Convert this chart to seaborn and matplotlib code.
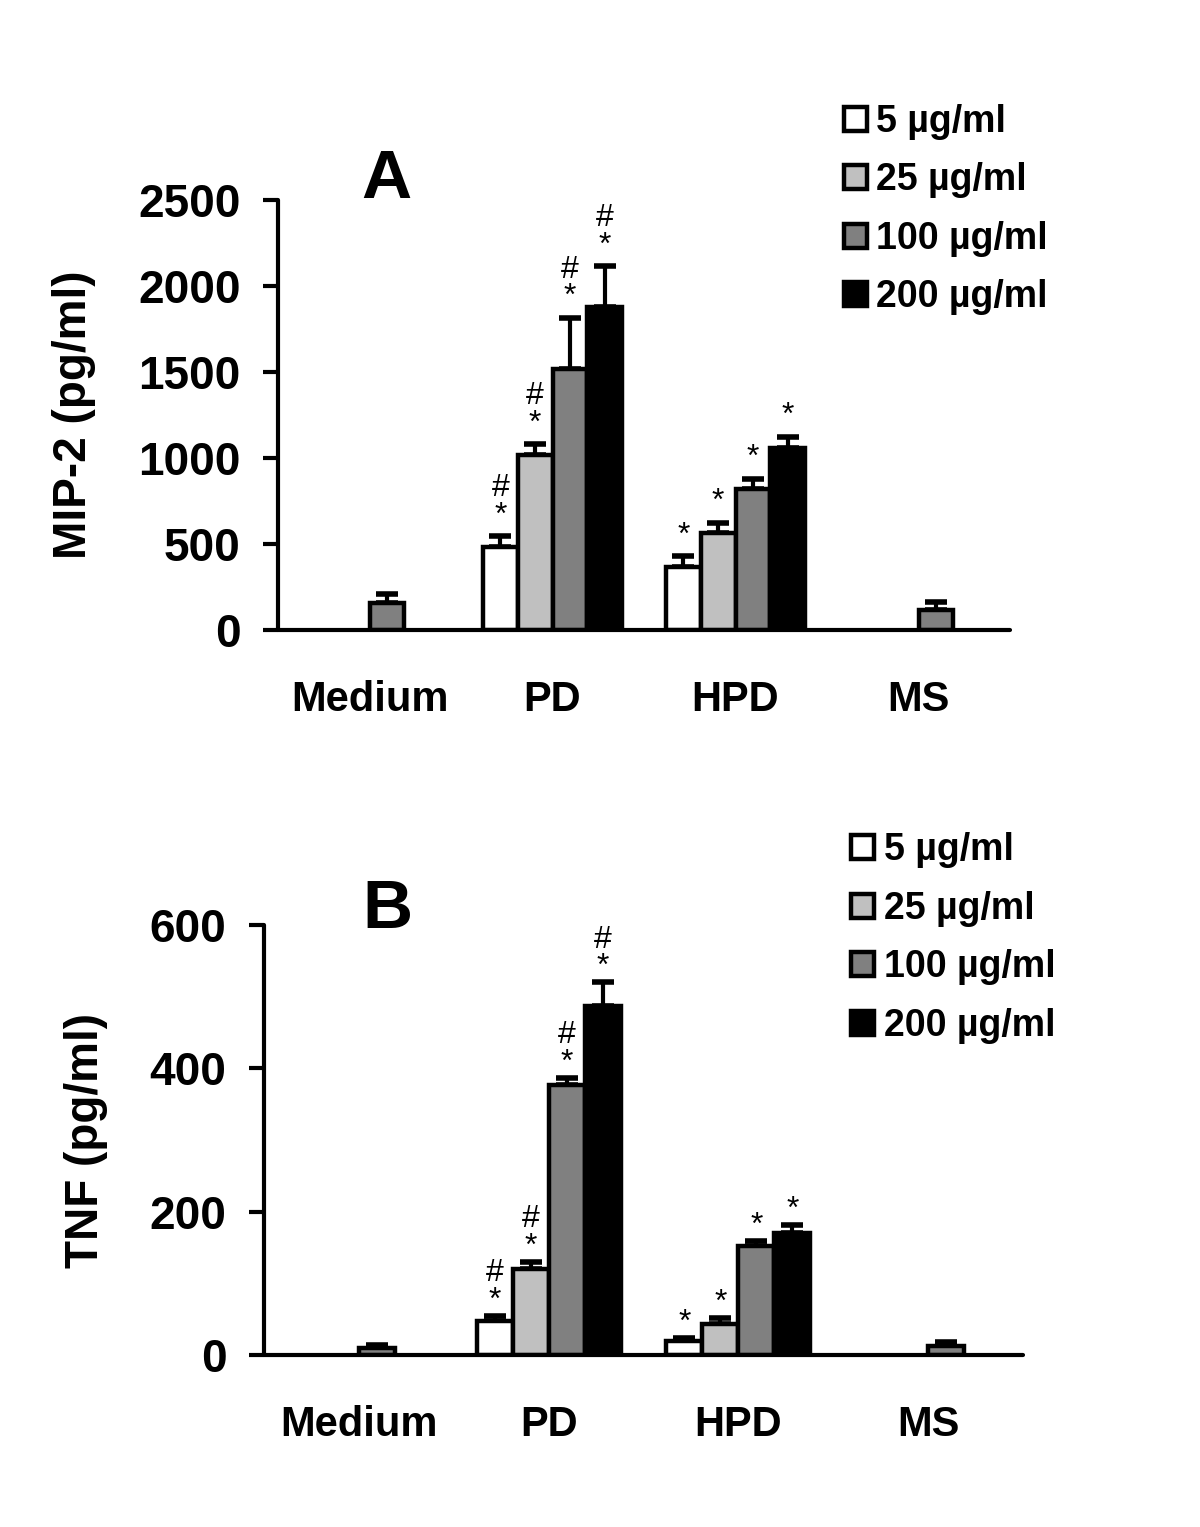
import numpy as np
import pandas as pd
import matplotlib
matplotlib.use("Agg")
import matplotlib.pyplot as plt
from matplotlib.patches import Patch
import seaborn as sns

# ---- data ----
groups = ["Medium", "PD", "HPD", "MS"]
doses = ["5 µg/ml", "25 µg/ml", "100 µg/ml", "200 µg/ml"]
dose_colors = ["#ffffff", "#c0c0c0", "#808080", "#000000"]

# MIP-2 (pg/ml), rows = groups, cols = doses (nan = no bar)
mip2_mean = [[np.nan, np.nan, 160, np.nan],
             [485, 1015, 1515, 1880],
             [365, 565, 820, 1060],
             [np.nan, np.nan, 115, np.nan]]
mip2_err = [[np.nan, np.nan, 50, np.nan],
            [60, 65, 300, 235],
            [65, 60, 60, 65],
            [np.nan, np.nan, 50, np.nan]]

# TNF (pg/ml)
tnf_mean = [[np.nan, np.nan, 10, np.nan],
            [47, 120, 377, 487],
            [20, 44, 152, 170],
            [np.nan, np.nan, 13, np.nan]]
tnf_err = [[np.nan, np.nan, 4, np.nan],
           [8, 10, 10, 33],
           [4, 8, 7, 12],
           [np.nan, np.nan, 5, np.nan]]

# significance marks above the bars
marks = [["", "", "", ""],
         ["#\n*", "#\n*", "#\n*", "#\n*"],
         ["*", "*", "*", "*"],
         ["", "", "", ""]]


def long_table(mean, err):
    rows = []
    for gi, g in enumerate(groups):
        for di, d in enumerate(doses):
            if not np.isnan(mean[gi][di]):
                rows.append({"group": g, "dose": d, "value": mean[gi][di],
                             "err": err[gi][di], "mark": marks[gi][di]})
    return pd.DataFrame(rows)


sns.set_style("ticks")
plt.rcParams["font.family"] = ["Liberation Sans", "DejaVu Sans"]
plt.rcParams["font.weight"] = "bold"
for key in ["text.color", "axes.labelcolor", "xtick.color", "ytick.color",
            "axes.edgecolor"]:
    plt.rcParams[key] = "black"

fig = plt.figure(figsize=(12, 15.27), dpi=100)
ax_a = fig.add_axes([0.2317, 0.5874, 0.61, 0.2816])
ax_b = fig.add_axes([0.22, 0.1126, 0.6325, 0.2816])

palette = dict(zip(doses, dose_colors))


def draw_panel(ax, df, ymax, yticks, ylabel, letter, letter_xy, mark_off):
    sns.barplot(data=df, x="group", y="value", hue="dose", order=groups,
                hue_order=doses, palette=palette, errorbar=None,
                width=0.76, edgecolor="black", linewidth=3.2, saturation=1,
                legend=False, ax=ax, zorder=2)
    # one-sided SD bars + marks, matched to each drawn bar
    for cont, dose in zip(ax.containers, doses):
        for bar in cont:
            xc = bar.get_x() + bar.get_width() / 2
            g = groups[int(round(xc))]
            row = df[(df.group == g) & (df.dose == dose)].iloc[0]
            ax.errorbar(xc, row.value, yerr=[[0], [row.err]], fmt="none",
                        ecolor="black", elinewidth=3, capsize=8, capthick=4,
                        zorder=1)
            if row.mark:
                ax.annotate(row.mark, xy=(xc, row.value + row.err),
                            xytext=(0, mark_off), textcoords="offset points",
                            ha="center", va="bottom", fontsize=23,
                            fontweight="normal", linespacing=0.9,
                            annotation_clip=False)
    ax.set_xlim(-0.5, 3.5)
    ax.set_ylim(0, ymax)
    ax.set_yticks(yticks)
    ax.set_xlabel("")
    ax.set_ylabel(ylabel, fontsize=33, fontweight="bold", labelpad=30)
    sns.despine(ax=ax)
    for s in ["left", "bottom"]:
        ax.spines[s].set_linewidth(3)
        ax.spines[s].set_capstyle("round")
    ax.tick_params(axis="y", length=11, width=3, pad=16, labelsize=33)
    ax.tick_params(axis="x", length=0, pad=36, labelsize=30)
    for t in ax.get_xticklabels() + ax.get_yticklabels():
        t.set_fontweight("bold")
    ax.text(letter_xy[0], letter_xy[1], letter, transform=ax.transAxes,
            ha="center", va="center", fontsize=50, fontweight="bold")


draw_panel(ax_a, long_table(mip2_mean, mip2_err), 2500,
           [0, 500, 1000, 1500, 2000, 2500], "MIP-2 (pg/ml)", "A",
           (0.148, 1.047), 4)
draw_panel(ax_b, long_table(tnf_mean, tnf_err), 600,
           [0, 200, 400, 600], "TNF (pg/ml)", "B", (0.162, 1.035), 0)

handles = [Patch(facecolor=c, edgecolor="black", linewidth=3.2)
           for c in dose_colors]
for anchor in [(0.675, 0.954), (0.681, 0.477)]:
    fig.legend(handles, doses, loc="upper left", bbox_to_anchor=anchor,
               frameon=False, handlelength=0.62, handleheight=0.62,
               handletextpad=0.25, labelspacing=0.6,
               prop={"weight": "bold", "size": 27})

fig.savefig("out.png", dpi=100)
